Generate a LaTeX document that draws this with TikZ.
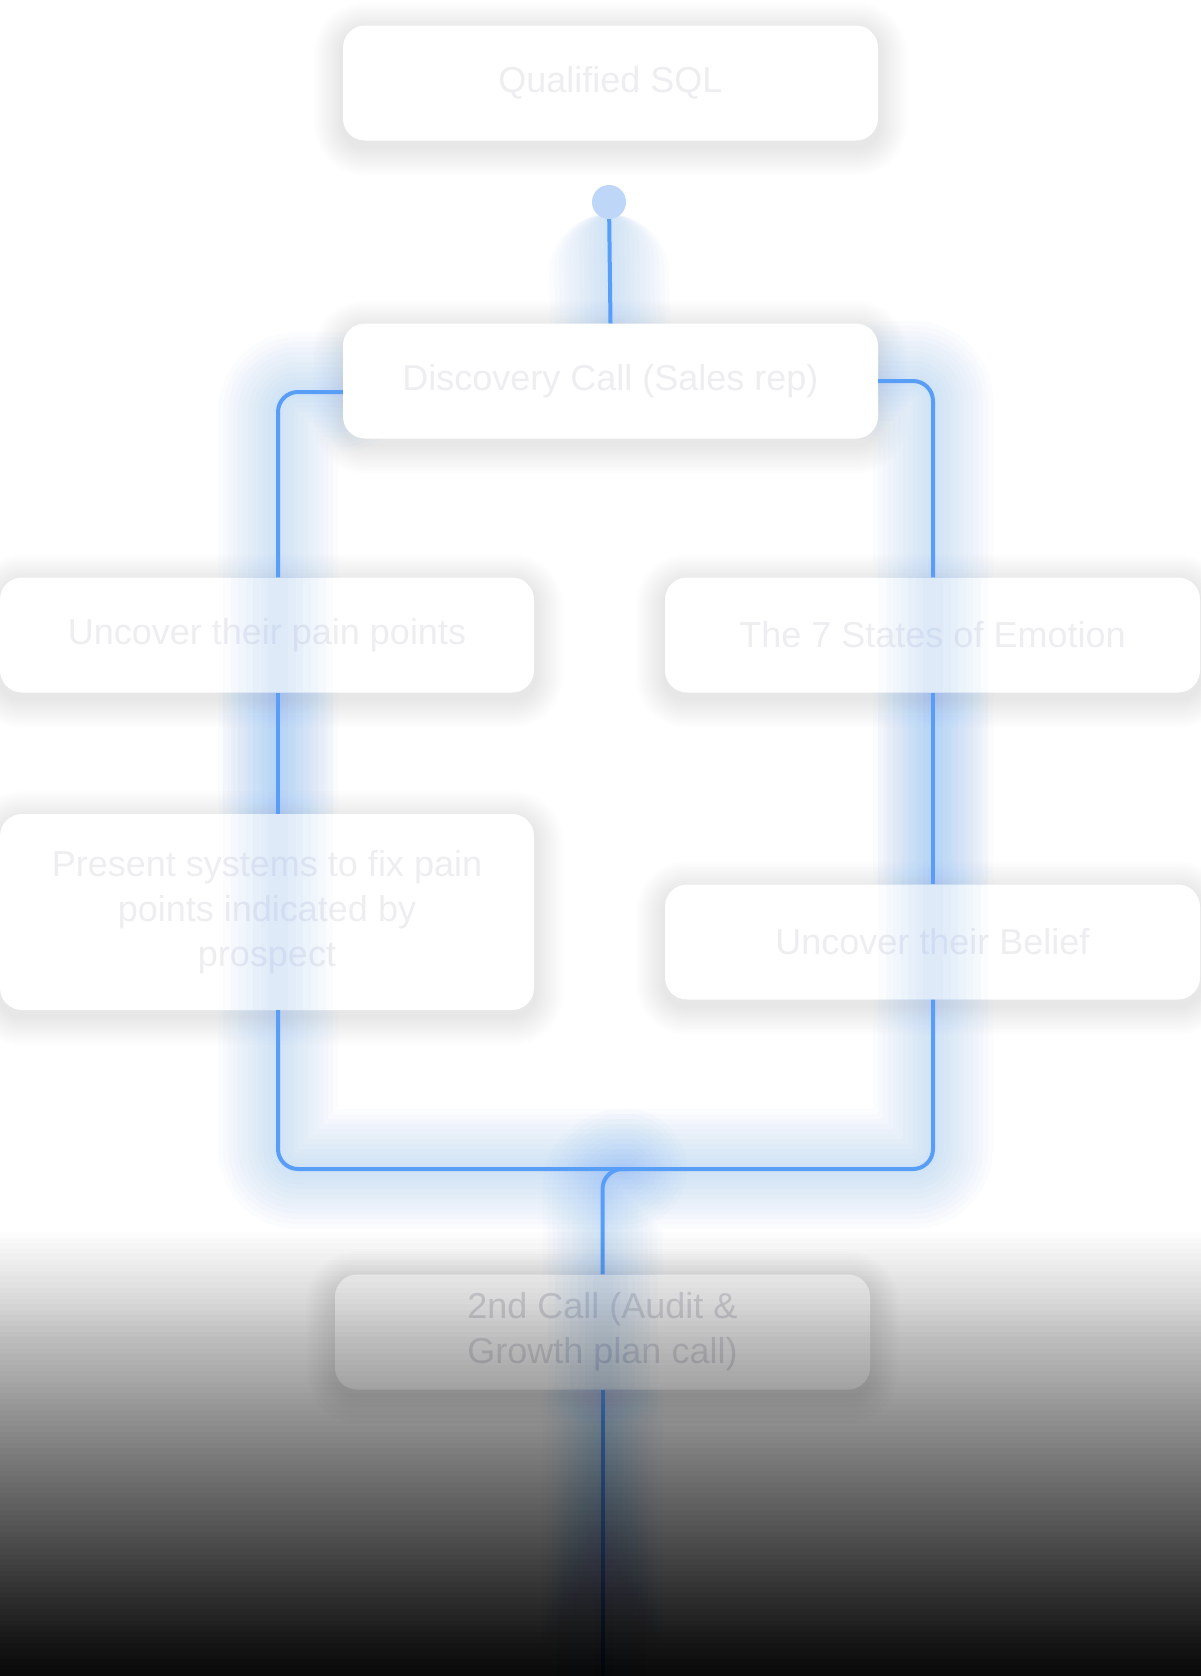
\documentclass[tikz,border=0pt]{standalone}
\usepackage{fontspec}
\setmainfont{Liberation Sans}
\usetikzlibrary{calc}
\definecolor{linkblue}{RGB}{88,158,246}
\definecolor{dotblue}{RGB}{190,214,248}
\definecolor{cardtext}{RGB}{238,238,241}
\definecolor{darktext}{RGB}{226,226,230}
\pgfdeclarelayer{bg}
\pgfsetlayers{bg,main}
\begin{document}
\begin{tikzpicture}[x=1pt,y=-1pt,
  card/.style={rectangle, rounded corners=22pt, fill=white, minimum width=535pt,
    minimum height=115pt, inner sep=0pt, align=center, text=cardtext,
    font=\fontsize{36}{45}\selectfont},
  link/.style={draw=linkblue, line width=4pt, rounded corners=20pt},
  glow/.style={draw=linkblue, line width=#1, rounded corners=20pt, opacity=0.024, line cap=round},
  softglow/.style={draw=linkblue, line width=#1, opacity=0.028},
  shade ring/.style={fill=black, opacity=0.009},
]
\useasboundingbox (0,0) rectangle (1200,1676);

\coordinate (xl) at (278,0);
\coordinate (xr) at (933,0);
\coordinate (hb) at (0,1169);
\coordinate (end) at (602.5,1676);

\node[card] (q) at (610.5,83) {Qualified SQL};
\node[card] (d) at (610.5,381) {Discovery Call (Sales rep)};
\node[card, minimum width=534pt] (p) at (267,635) {Uncover their pain points};
\node[card] (e) at (932.5,635) {The 7 States of Emotion};
\node[card, minimum width=534pt, minimum height=196pt] (s) at (267,912)
  {Present systems to fix pain\\points indicated by\\prospect};
\node[card] (b) at (932.5,942) {Uncover their Belief};
\node[card, text=darktext] (c) at (602.5,1332) {2nd Call (Audit \&\\Growth plan call)};

\begin{pgfonlayer}{bg}
  \fill[white] (-5,-5) rectangle (1205,1681);
  % soft shadows
  \foreach \n in {q,d,p,e,s,b,c}{
    \foreach \k in {1,...,12}{
      \fill[shade ring, rounded corners=22pt+\k*2.4pt]
        ($(\n.south west)+(-\k*2.4, \k*2.4+6)$) rectangle ($(\n.north east)+(\k*2.4, -\k*2.4+6)$);
    }
  }
  % glow beneath cards
  \foreach \w in {120,110,...,10}{
    \draw[glow=\w pt] (609,214+\w/2) -- (d.north);
    \draw[glow=\w pt] ([yshift=-11pt]d.west) -| (s.south -| xl) |- ([xshift=24pt]c.north |- hb);
    \draw[glow=\w pt] (d.east) -| (b.south -| xr) |- (c.north |- hb) -- (end);
  }
\end{pgfonlayer}

% light glow that shows through the cards
\foreach \w in {110,95,...,20}{
  \draw[softglow=\w pt] (p.north -| xl) -- (s.south -| xl);
  \draw[softglow=\w pt] (e.north -| xr) -- (b.south -| xr);
  \draw[softglow=\w pt] (c.north) -- (c.south);
}

\node[circle, fill=dotblue, minimum size=34pt, inner sep=0pt] (dot) at (609,202) {};

% connectors
\draw[link] (dot) -- (d.north);
\draw[link] ([yshift=-11pt]d.west) -| (p.north -| xl);
\draw[link] (d.east) -| (e.north -| xr);
\draw[link] (p.south -| xl) -- (s.north -| xl);
\draw[link] (e.south -| xr) -- (b.north -| xr);
\draw[link] (s.south -| xl) |- ([xshift=24pt]c.north |- hb);
\draw[link] (b.south -| xr) |- (c.north |- hb) -- (c.north);
\draw[link] (c.south) -- (end);

% dark fade at the bottom: stacked bands give a smooth linear darkening
\foreach \i in {1,...,80}{
  \pgfmathsetmacro\aa{1-(1-0.94*\i/80)/(1-0.94*(\i-1)/80)}
  \pgfmathsetmacro\yy{1232+(\i-1)*5.55}
  \fill[black, opacity=\aa] (-5,\yy) rectangle (1205,1681);
}
\end{tikzpicture}
\end{document}
